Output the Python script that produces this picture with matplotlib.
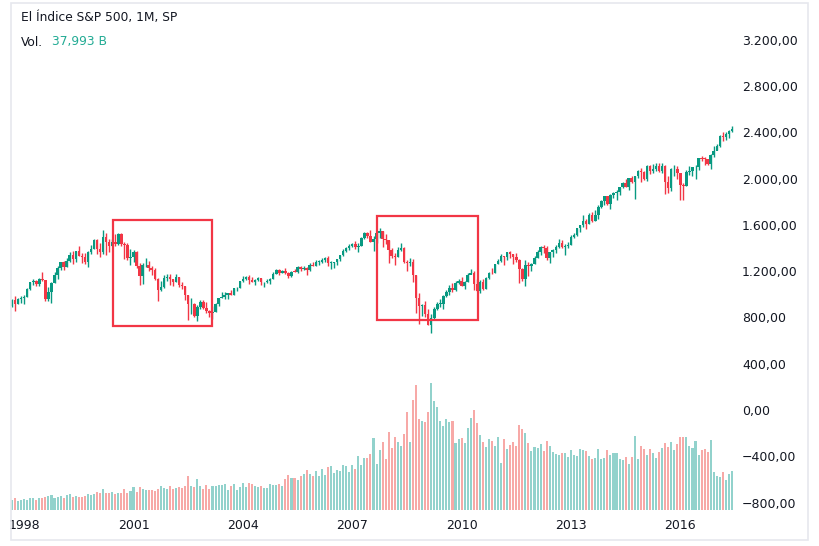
import matplotlib
matplotlib.use("Agg")
import matplotlib.pyplot as plt
from matplotlib.patches import Rectangle
from matplotlib.ticker import FixedLocator, FuncFormatter

# monthly S&P 500, Sep 1997 .. Jun 2017 (index 0 = Sep 1997)
first_open = 899.47

closes = [
    947.28, 914.62, 955.40, 970.43,
    980.28, 1049.34, 1101.75, 1111.75, 1090.82, 1133.84, 1120.67, 957.28, 1017.01, 1098.67, 1163.63, 1229.23,
    1279.64, 1238.33, 1286.37, 1335.18, 1301.84, 1372.71, 1328.72, 1320.41, 1282.71, 1362.93, 1388.91, 1469.25,
    1394.46, 1366.42, 1498.58, 1452.43, 1420.60, 1454.60, 1430.83, 1517.68, 1436.51, 1429.40, 1314.95, 1320.28,
    1366.01, 1239.94, 1160.33, 1249.46, 1255.82, 1224.38, 1211.23, 1133.58, 1040.94, 1059.78, 1139.45, 1148.08,
    1130.20, 1106.73, 1147.39, 1076.92, 1067.14, 989.82, 911.62, 916.07, 815.28, 885.76, 936.31, 879.82,
    855.70, 841.15, 848.18, 916.92, 963.59, 974.50, 990.31, 1008.01, 995.97, 1050.71, 1058.20, 1111.92,
    1131.13, 1144.94, 1126.21, 1107.30, 1120.68, 1140.84, 1101.72, 1104.24, 1114.58, 1130.20, 1173.82, 1211.92,
    1181.27, 1203.60, 1180.59, 1156.85, 1191.50, 1191.33, 1234.18, 1220.33, 1228.81, 1207.01, 1249.48, 1248.29,
    1280.08, 1280.66, 1294.83, 1310.61, 1270.09, 1270.20, 1276.66, 1303.82, 1335.85, 1377.94, 1400.63, 1418.30,
    1438.24, 1406.82, 1420.86, 1482.37, 1530.62, 1503.35, 1455.27, 1473.99, 1526.75, 1549.38, 1481.14, 1468.36,
    1378.55, 1330.63, 1322.70, 1385.59, 1400.38, 1280.00, 1267.38, 1282.83, 1166.36, 968.75, 896.24, 903.25,
    825.88, 735.09, 797.87, 872.81, 919.14, 919.32, 987.48, 1020.62, 1057.08, 1036.19, 1095.63, 1115.10,
    1073.87, 1104.49, 1169.43, 1186.69, 1089.41, 1030.71, 1101.60, 1049.33, 1141.20, 1183.26, 1180.55, 1257.64,
    1286.12, 1327.22, 1325.83, 1363.61, 1345.20, 1320.64, 1292.28, 1218.89, 1131.42, 1253.30, 1246.96, 1257.60,
    1312.41, 1365.68, 1408.47, 1397.91, 1310.33, 1362.16, 1379.32, 1406.58, 1440.67, 1412.16, 1416.18, 1426.19,
    1498.11, 1514.68, 1569.19, 1597.57, 1630.74, 1606.28, 1685.73, 1632.97, 1681.55, 1756.54, 1805.81, 1848.36,
    1782.59, 1859.45, 1872.34, 1883.95, 1923.57, 1960.23, 1930.67, 2003.37, 1972.29, 2018.05, 2067.56, 2058.90,
    1994.99, 2104.50, 2067.89, 2085.51, 2107.39, 2063.11, 2103.84, 1972.18, 1920.03, 2079.36, 2080.41, 2043.94,
    1940.24, 1932.23, 2059.74, 2065.30, 2096.95, 2098.86, 2173.60, 2170.95, 2168.27, 2126.15, 2198.81, 2238.83,
    2278.87, 2363.64, 2362.72, 2384.20, 2411.80, 2423.41,
]

highs = [
    960.6, 983.1, 964.6, 986.3,
    992.7, 1050.6, 1105.7, 1130.5, 1123.0, 1138.5, 1190.6, 1121.0, 1066.1, 1103.8, 1193.0, 1244.9,
    1280.5, 1283.8, 1316.2, 1362.8, 1376.0, 1376.0, 1420.3, 1357.7, 1358.6, 1373.2, 1424.0, 1473.1,
    1478.0, 1444.6, 1552.9, 1527.2, 1481.5, 1480.8, 1517.3, 1525.2, 1530.1, 1454.8, 1438.5, 1389.1,
    1383.4, 1376.9, 1267.4, 1269.3, 1315.9, 1286.6, 1239.8, 1226.3, 1136.1, 1110.6, 1163.4, 1173.0,
    1177.0, 1130.2, 1173.0, 1147.8, 1106.6, 1070.7, 994.5, 965.0, 924.0, 907.4, 951.6, 954.3,
    935.1, 864.6, 895.9, 924.2, 965.4, 1015.3, 1015.4, 1011.0, 1040.3, 1053.8, 1063.7, 1112.6,
    1155.4, 1159.0, 1163.2, 1150.6, 1127.7, 1146.3, 1140.8, 1109.7, 1131.5, 1142.1, 1188.5, 1217.3,
    1217.8, 1212.4, 1229.1, 1191.9, 1199.6, 1219.6, 1245.2, 1245.9, 1243.1, 1233.3, 1270.6, 1275.8,
    1294.9, 1297.6, 1310.9, 1318.2, 1326.7, 1290.7, 1280.4, 1306.7, 1340.3, 1389.5, 1407.9, 1431.8,
    1441.6, 1461.6, 1438.9, 1498.0, 1535.6, 1540.6, 1555.9, 1503.9, 1538.7, 1576.1, 1545.8, 1523.6,
    1471.8, 1396.0, 1359.7, 1404.6, 1440.2, 1404.1, 1292.2, 1313.2, 1303.0, 1167.0, 1007.5, 918.9,
    943.9, 875.0, 833.0, 888.7, 930.2, 956.2, 996.7, 1039.5, 1080.2, 1101.4, 1113.7, 1130.4,
    1150.5, 1112.4, 1180.2, 1219.8, 1205.1, 1131.2, 1121.0, 1129.2, 1148.9, 1196.1, 1227.1, 1262.6,
    1302.7, 1344.1, 1332.3, 1366.6, 1370.6, 1345.2, 1356.5, 1307.4, 1230.7, 1292.7, 1277.6, 1269.4,
    1333.5, 1378.0, 1419.2, 1422.4, 1415.3, 1363.5, 1392.0, 1426.7, 1474.5, 1471.0, 1434.3, 1448.0,
    1509.9, 1530.9, 1570.3, 1597.6, 1687.2, 1654.2, 1698.8, 1709.7, 1729.9, 1775.2, 1813.6, 1849.4,
    1850.8, 1867.9, 1884.0, 1897.3, 1924.0, 1968.2, 1991.4, 2005.0, 2019.3, 2018.2, 2075.8, 2093.6,
    2064.4, 2119.6, 2117.5, 2125.9, 2134.7, 2129.9, 2132.8, 2113.0, 2020.9, 2094.3, 2116.5, 2104.3,
    2038.2, 1963.0, 2072.2, 2111.1, 2103.5, 2120.6, 2177.1, 2193.8, 2187.9, 2169.6, 2214.1, 2277.5,
    2301.0, 2371.5, 2401.0, 2398.2, 2418.7, 2453.8,
]

lows = [
    889.0, 855.3, 914.0, 924.9,
    912.8, 976.8, 1032.5, 1076.7, 1074.7, 1074.7, 1114.3, 940.0, 939.9, 923.3, 1098.7, 1132.9,
    1205.5, 1211.9, 1234.6, 1282.5, 1263.1, 1281.4, 1328.6, 1268.7, 1263.2, 1233.7, 1345.2, 1387.4,
    1350.1, 1325.1, 1346.6, 1339.4, 1361.1, 1415.0, 1416.9, 1428.2, 1419.4, 1305.8, 1294.9, 1254.1,
    1274.6, 1228.4, 1081.2, 1091.9, 1232.0, 1203.0, 1165.5, 1124.9, 944.8, 1026.8, 1054.3, 1114.5,
    1081.7, 1074.4, 1106.7, 1063.5, 1049.0, 952.9, 775.7, 833.4, 800.2, 768.6, 872.0, 871.8,
    840.3, 806.3, 788.9, 847.9, 902.8, 963.6, 962.1, 960.8, 990.4, 996.0, 1031.2, 1053.4,
    1105.1, 1124.4, 1087.2, 1106.3, 1076.3, 1113.3, 1078.8, 1060.7, 1101.3, 1090.2, 1127.6, 1173.8,
    1163.8, 1180.0, 1176.8, 1136.2, 1146.2, 1188.3, 1183.6, 1201.1, 1205.4, 1168.2, 1201.1, 1246.6,
    1245.7, 1253.6, 1268.4, 1280.7, 1245.3, 1219.3, 1224.5, 1253.0, 1290.9, 1327.1, 1361.0, 1385.9,
    1404.0, 1389.4, 1364.0, 1416.4, 1476.7, 1484.2, 1454.3, 1370.6, 1439.3, 1489.6, 1406.1, 1435.7,
    1270.1, 1316.8, 1257.0, 1324.4, 1373.1, 1272.0, 1200.4, 1247.5, 1106.4, 839.8, 741.0, 815.7,
    804.5, 734.5, 666.8, 783.3, 866.1, 888.9, 869.3, 978.5, 992.0, 1020.2, 1029.4, 1085.9,
    1071.6, 1044.5, 1105.4, 1170.7, 1040.8, 1028.3, 1010.9, 1039.7, 1041.3, 1131.9, 1173.0, 1186.6,
    1257.6, 1282.9, 1249.1, 1294.7, 1311.8, 1258.1, 1282.9, 1101.5, 1114.2, 1074.8, 1158.7, 1202.4,
    1259.0, 1312.4, 1340.0, 1357.4, 1292.0, 1266.7, 1325.4, 1354.7, 1396.6, 1403.3, 1343.4, 1398.1,
    1426.2, 1485.0, 1501.5, 1536.0, 1581.3, 1560.3, 1604.6, 1627.5, 1633.4, 1646.5, 1746.2, 1768.0,
    1770.5, 1737.9, 1834.4, 1814.4, 1859.8, 1916.0, 1930.7, 1904.8, 1964.0, 1820.7, 2001.0, 1972.6,
    1988.4, 1980.9, 2039.7, 2048.4, 2067.9, 2056.3, 2044.0, 1867.0, 1871.9, 1893.7, 2019.4, 1993.3,
    1812.3, 1810.1, 1937.1, 2033.8, 2025.9, 1991.7, 2074.0, 2147.6, 2119.1, 2114.7, 2083.8, 2187.4,
    2245.1, 2271.7, 2322.3, 2329.0, 2352.7, 2405.7,
]

# volume, billions
volume = [
    9.7, 11.7, 8.8, 9.7, 10.7, 9.7, 11.7, 11.7, 9.7, 11.7,
    11.7, 12.7, 13.6, 14.6, 11.7, 12.7, 13.6, 11.7, 14.6, 15.6,
    12.7, 13.6, 12.7, 12.7, 13.6, 15.6, 14.6, 15.6, 17.5, 16.6,
    20.5, 16.6, 16.6, 17.5, 15.6, 16.6, 16.6, 20.5, 16.6, 18.5,
    22.4, 17.5, 22.4, 20.5, 19.5, 19.5, 19.5, 18.5, 20.5, 23.4,
    21.4, 20.5, 23.4, 20.5, 21.4, 22.4, 21.4, 23.4, 33.1, 23.4,
    22.4, 30.2, 23.4, 20.5, 24.4, 20.5, 23.4, 23.4, 24.4, 24.4,
    25.3, 19.5, 23.4, 25.3, 19.5, 22.4, 26.3, 22.4, 26.3, 25.3,
    23.4, 22.4, 23.4, 21.4, 21.4, 25.3, 24.4, 24.4, 25.3, 23.4,
    30.2, 34.1, 31.2, 31.2, 29.2, 33.1, 35.1, 39.0, 35.1, 33.1,
    38.0, 33.1, 39.9, 34.1, 41.9, 42.9, 36.0, 39.0, 38.0, 43.8,
    42.9, 37.0, 43.8, 39.9, 52.6, 43.8, 50.6, 50.6, 54.5, 70.1,
    44.8,
    58.4, 66.2, 49.7, 76.0, 60.4, 71.1, 66.2, 62.3, 74.0, 95.4,
    66.2, 107.1, 121.8, 88.6, 86.7, 85.7, 95.4, 123.7, 106.2, 100.3,
    86.7, 81.8, 88.6, 85.7, 86.7, 65.3, 69.1, 70.1, 65.3, 79.9,
    89.6, 97.4, 84.7, 73.0, 66.2, 61.4, 69.1, 67.2, 62.3, 71.1,
    45.8, 69.1, 59.4, 63.3, 66.2, 62.3, 82.8, 78.9, 75.0, 65.3,
    57.5, 61.4, 60.4, 64.3, 57.5, 67.2, 62.3, 56.5, 54.5, 53.6,
    55.5, 55.5, 51.6, 58.4, 53.6, 52.6, 59.4, 58.4, 57.5, 52.6,
    49.7, 50.6, 59.4, 49.7, 50.6, 58.4, 53.6, 55.5, 55.5, 49.7,
    48.7, 51.6, 44.8, 51.6, 72.1, 49.7, 62.3, 59.4, 53.6, 59.4,
    55.5, 50.6, 56.5, 60.4, 65.3, 61.4, 66.2, 58.4, 64.3, 71.1,
    71.1, 71.1, 62.3, 60.4, 67.2, 53.6, 58.4, 59.4, 56.5, 68.2,
    37.0, 33.1, 32.1, 37.0, 29.2, 35.1, 37.993,
]

years = ["1998", "2001", "2004", "2007", "2010", "2013", "2016"]
year_pos = [4, 40, 76, 112, 148, 184, 220]  # January of each year

opens = [first_open] + closes[:-1]

UP, DOWN = "#089981", "#f23645"
UP_VOL, DOWN_VOL = "#92d2cc", "#f7a9a7"
TXT = "#131722"

W, H = 819, 546
fig = plt.figure(figsize=(W / 100, H / 100), dpi=100)

# plot area in pixels: x 11..735, y 3..512
ax_vol = fig.add_axes([11 / W, 34 / H, 724 / W, 509 / H])
ax = ax_vol.twinx()

x = list(range(len(closes)))
vcol = [UP_VOL if c >= o else DOWN_VOL for o, c in zip(opens, closes)]
ax_vol.bar(x, volume, width=0.68, color=vcol, linewidth=0)
ax_vol.set_ylim(-1.95, 493.9)
ax_vol.set_xlim(-0.33, 238.0)
ax_vol.set_yticks([])
ax_vol.xaxis.set_major_locator(FixedLocator(year_pos))
ax_vol.set_xticklabels(years)
ax_vol.tick_params(axis="x", length=0, pad=5, labelsize=9, labelcolor=TXT)

ccol = [UP if c >= o else DOWN for o, c in zip(opens, closes)]
ax.vlines(x, lows, highs, colors=ccol, linewidth=1.0)
bottoms = [min(o, c) for o, c in zip(opens, closes)]
heights = [max(abs(c - o), 6) for o, c in zip(opens, closes)]
ax.bar(x, heights, bottom=bottoms, width=0.82, color=ccol, linewidth=0)

ax.set_ylim(-881.2, 3516.2)
ax.set_xlim(-0.33, 238.0)
ax.yaxis.set_major_locator(FixedLocator(range(-800, 3201, 400)))


def fmt(v, _):
    s = f"{abs(v):,.2f}".replace(",", "X").replace(".", ",").replace("X", ".")
    return ("\u2212" + s) if v < 0 else s


ax.yaxis.set_major_formatter(FuncFormatter(fmt))
ax.tick_params(axis="y", length=0, pad=5, labelsize=9, labelcolor=TXT)

# highlighted periods
ax.add_patch(Rectangle((33.3, 726), 32.7, 1641 - 726, fill=False,
                       edgecolor=DOWN, linewidth=1.6, zorder=5))
ax.add_patch(Rectangle((120.0, 778), 33.3, 1676 - 778, fill=False,
                       edgecolor=DOWN, linewidth=1.6, zorder=5))

for a in (ax, ax_vol):
    for s in a.spines.values():
        s.set_visible(False)

# panel border
fig.patches.append(Rectangle((11 / W, 1 - 540 / H), 797 / W, 537 / H, fill=False,
                             edgecolor="#e6e8ee", linewidth=1.2,
                             transform=fig.transFigure, figure=fig))

fig.text(21 / W, 1 - 18 / H, "El Índice S&P 500, 1M, SP", fontsize=8.8,
         color=TXT, va="center", ha="left")
fig.text(21 / W, 1 - 42 / H, "Vol.", fontsize=8.8, color=TXT, va="center", ha="left")
fig.text(52 / W, 1 - 42 / H, "37,993 B", fontsize=8.8,
         color="#22ab94", va="center", ha="left")

fig.savefig("out.png", dpi=100)
